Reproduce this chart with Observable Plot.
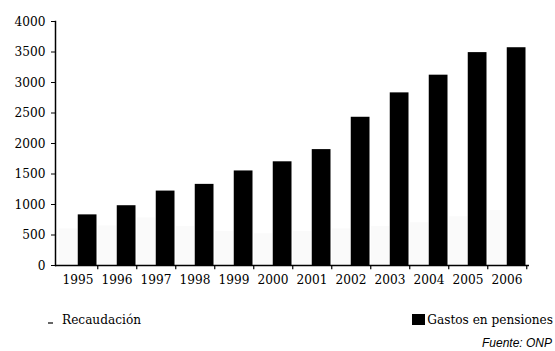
<!DOCTYPE html>
<html>
<head>
<meta charset="utf-8">
<script src="https://cdn.jsdelivr.net/npm/d3@7"></script>
<script src="https://cdn.jsdelivr.net/npm/@observablehq/plot@0.6"></script>
<style>
  html, body { margin: 0; padding: 0; background: #fff; }
  #wrap { width: 555px; font-family: "DejaVu Serif Condensed", "DejaVu Serif", serif; font-stretch: condensed; color: #000; }
  #chart svg { display: block; }
  #legend { position: relative; height: 34px; font-size: 13.5px; }
  #legend .item { position: absolute; top: 10px; display: flex; align-items: center; white-space: nowrap; line-height: 18px; }
  #legend .sw { display: inline-block; margin-right: 2px; }
  #source { text-align: right; padding-right: 3px; height: 18px; line-height: 18px; font-family: "Liberation Sans", Arial, sans-serif; font-style: italic; font-stretch: normal; font-size: 12px; }
</style>
</head>
<body>
<div id="wrap">
  <div id="chart"></div>
  <div id="legend">
    <div class="item" style="left:48px"><span class="sw" style="width:5px;height:2px;background:#666;margin-right:9px;margin-top:8px"></span>Recaudación</div>
    <div class="item" style="right:2px"><span class="sw" style="width:13px;height:11px;background:#000"></span>Gastos en pensiones</div>
  </div>
  <div id="source">Fuente: ONP</div>
</div>
<script>
// Years on the horizontal axis
const years = ["1995", "1996", "1997", "1998", "1999", "2000", "2001", "2002", "2003", "2004", "2005", "2006"];
// Pension spending (millions)
const gastos = [830, 980, 1220, 1330, 1550, 1700, 1900, 2430, 2830, 3120, 3490, 3570];
// Contributions collected (millions), printed in a very pale tone
const recaudacion = [600, 650, 780, 640, 560, 520, 560, 600, 640, 700, 800, 900];
// Vertical axis ticks
const yTicks = [0, 500, 1000, 1500, 2000, 2500, 3000, 3500, 4000];

const rowsG = years.map((y, i) => ({year: y, value: gastos[i]}));
const rowsR = years.map((y, i) => ({year: y, value: recaudacion[i]}));

const width = 555, height = 300;
const mL = 55, mR = 26;
const band = (width - mL - mR) / years.length;
const serif = "'DejaVu Serif Condensed', 'DejaVu Serif', serif";

const chart = Plot.plot({
  width, height,
  marginTop: 21, marginBottom: 35, marginLeft: mL, marginRight: mR,
  style: {fontFamily: serif, fontSize: "13.5px", fontStretch: "condensed", color: "#000", background: "#fff"},
  x: {domain: years, padding: 0, label: null},
  y: {domain: [0, 4000], label: null},
  marks: [
    Plot.barY(rowsR, {x: "year", y: "value", fill: "#fafafa", insetLeft: 1, insetRight: band / 2}),
    Plot.barY(rowsG, {x: "year", y: "value", fill: "#000", insetLeft: band / 2, insetRight: 0.5}),
    // category boundary ticks below the baseline
    Plot.ruleX(years, {x: d => d, y1: 0, y2: -70, dx: band / 2, stroke: "#000", strokeWidth: 1.2}),
    Plot.ruleY([0], {stroke: "#000", strokeWidth: 1.5}),
    Plot.frame({anchor: "left", stroke: "#000", strokeWidth: 1.5}),
    Plot.axisY({ticks: yTicks, tickSize: 4, tickPadding: 6, tickFormat: d => String(d), fontSize: 13.5, fontFamily: serif, label: null}),
    Plot.axisX({tickSize: 0, tickPadding: 9, fontSize: 13.5, fontFamily: serif, label: null})
  ]
});
document.getElementById("chart").appendChild(chart);
</script>
</body>
</html>
